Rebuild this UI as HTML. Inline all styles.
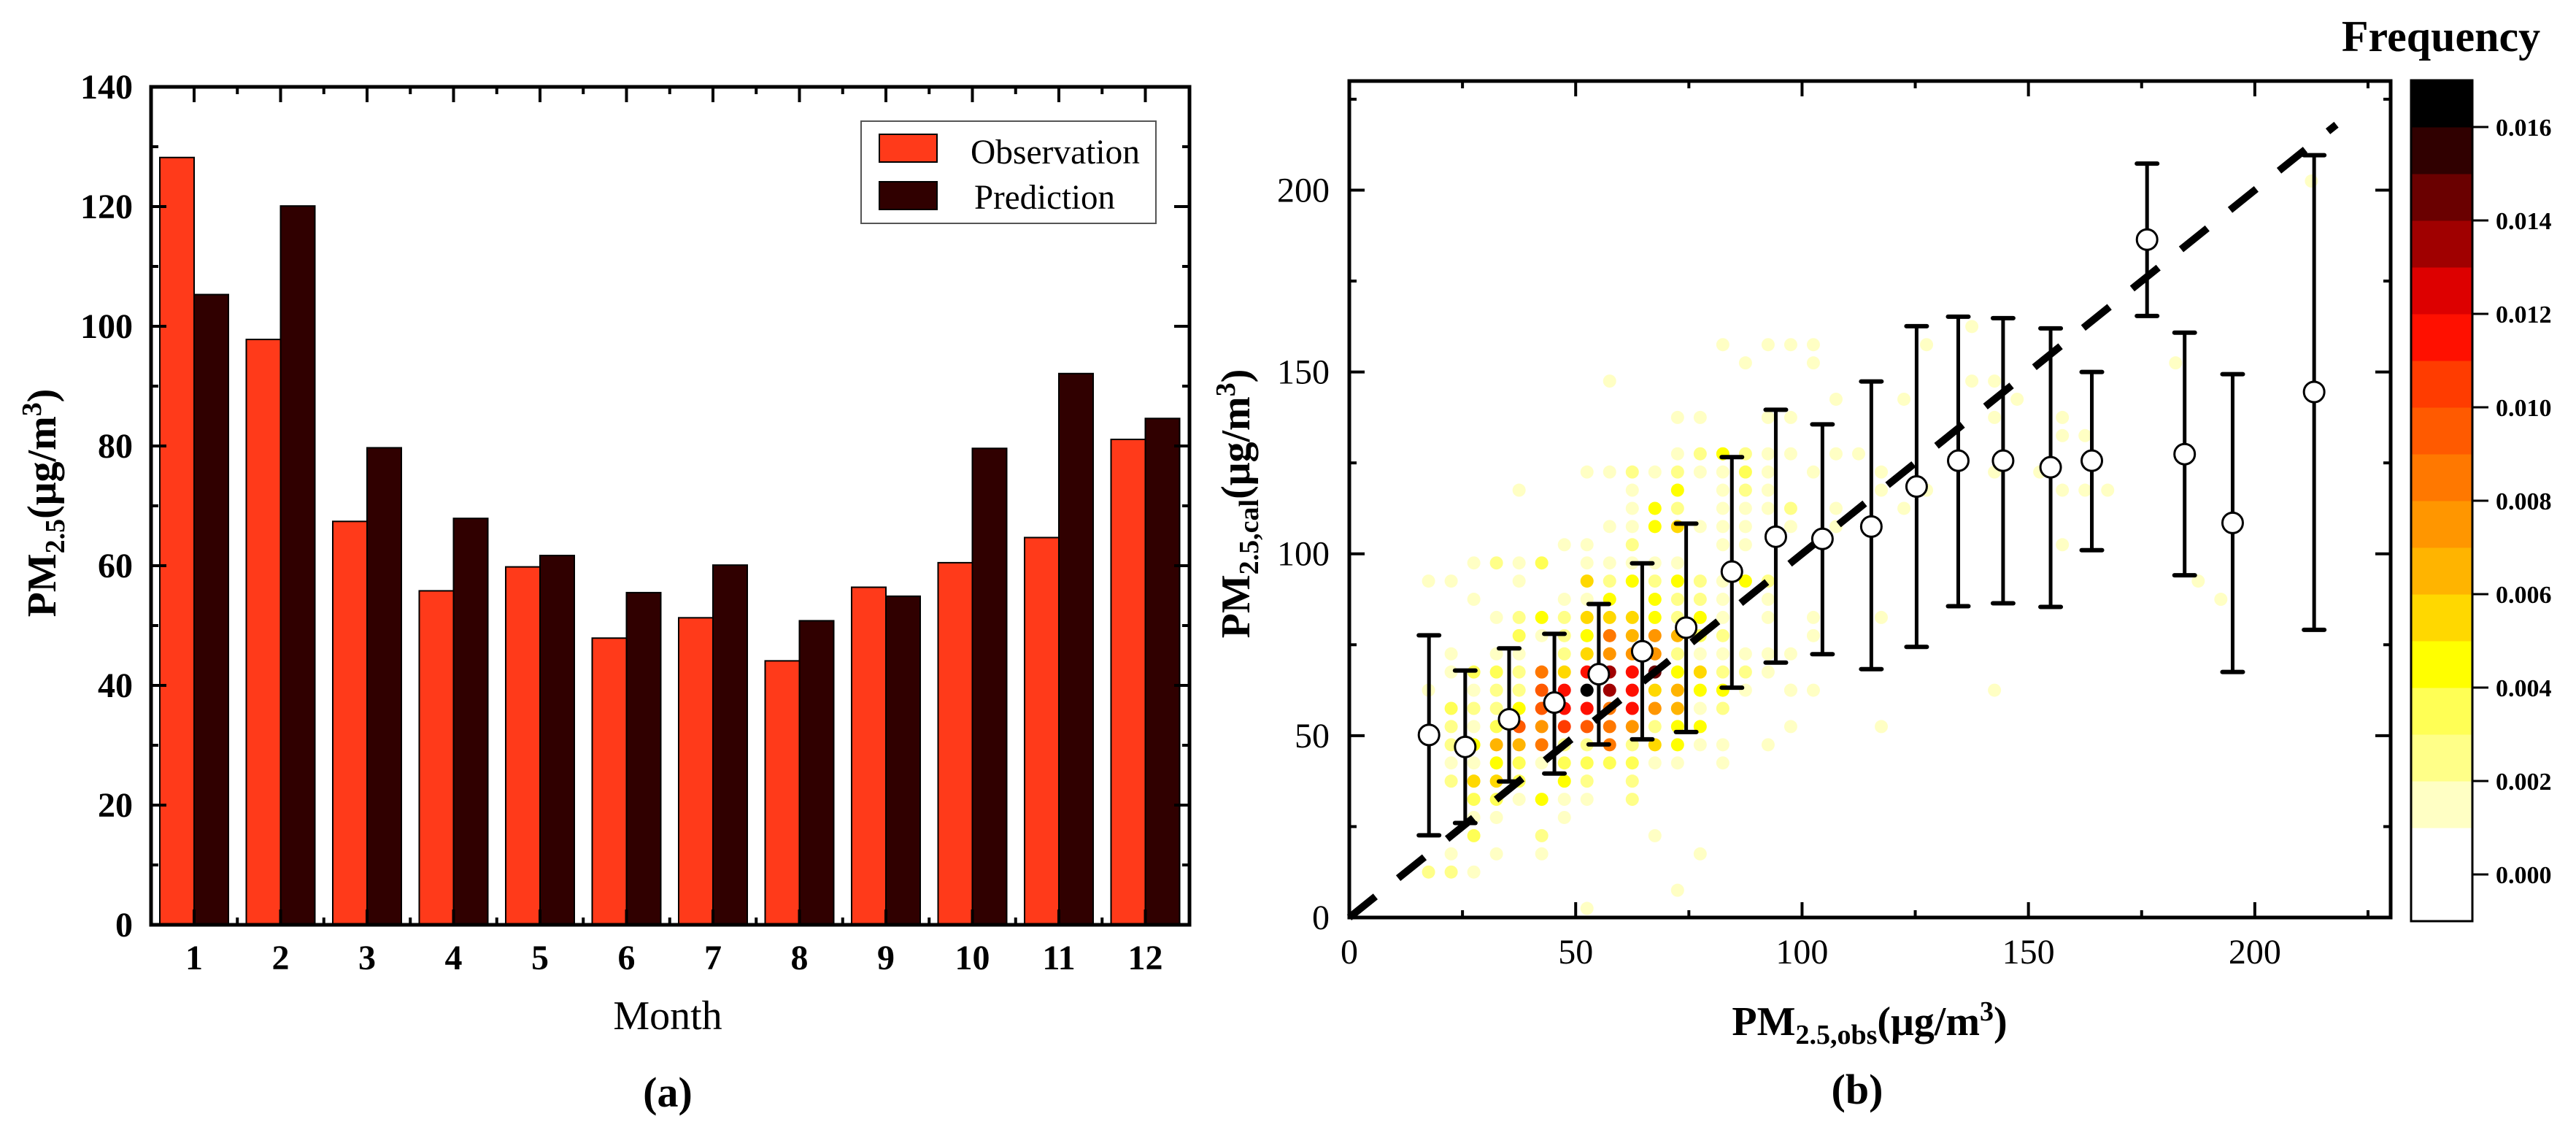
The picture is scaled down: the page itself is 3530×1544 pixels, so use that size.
<!DOCTYPE html>
<html><head><meta charset="utf-8"><style>
html,body{margin:0;padding:0;background:#fff;}
svg{display:block;font-family:"Liberation Serif",serif;}
</style></head><body>
<svg id="fig" width="3530" height="1544" viewBox="0 0 3530 1544" xmlns="http://www.w3.org/2000/svg">
<rect width="3530" height="1544" fill="#fff"/>
<g id="left"></g>
<g id="right"></g>
<text transform="translate(76,689) rotate(-90)" text-anchor="middle" font-weight="bold" font-size="56">PM<tspan font-size="38" dy="12">2.5</tspan><tspan dy="-12">(μg/m</tspan><tspan font-size="38" dy="-20">3</tspan><tspan dy="20">)</tspan></text>
<text x="915" y="1410" text-anchor="middle" font-size="56">Month</text>
<text x="915" y="1516" text-anchor="middle" font-weight="bold" font-size="58">(a)</text>
<text transform="translate(1712,690) rotate(-90)" text-anchor="middle" font-weight="bold" font-size="56">PM<tspan font-size="38" dy="12">2.5,cal</tspan><tspan dy="-12">(μg/m</tspan><tspan font-size="38" dy="-20">3</tspan><tspan dy="20">)</tspan></text>
<text x="2562" y="1418" text-anchor="middle" font-weight="bold" font-size="56">PM<tspan font-size="38" dy="12">2.5,obs</tspan><tspan dy="-12">(μg/m</tspan><tspan font-size="38" dy="-20">3</tspan><tspan dy="20">)</tspan></text>
<text x="2545" y="1512" text-anchor="middle" font-weight="bold" font-size="58">(b)</text>
<text x="3345" y="70" text-anchor="middle" font-weight="bold" font-size="60">Frequency</text>
<g>
<rect x="1180" y="166" width="404" height="140" fill="#fff" stroke="#555" stroke-width="2"/>
<rect x="1205" y="184" width="79" height="38" fill="#ff3a1a" stroke="#000" stroke-width="2"/>
<text x="1330" y="224" font-size="48" textLength="232" lengthAdjust="spacingAndGlyphs">Observation</text>
<rect x="1205" y="249" width="79" height="38" fill="#300000" stroke="#000" stroke-width="2"/>
<text x="1335" y="286" font-size="48" textLength="193" lengthAdjust="spacingAndGlyphs">Prediction</text>
</g>
</svg>
<script>
const months = [1,2,3,4,5,6,7,8,9,10,11,12];
const observation = [128.2,97.8,67.4,55.8,59.8,47.9,51.3,44.1,56.4,60.5,64.7,81.1];
const prediction = [105.3,120.1,79.7,67.9,61.7,55.5,60.1,50.8,54.9,79.6,92.1,84.6];
const leftYTicks = [0,20,40,60,80,100,120,140];

const binX = [17.6,25.6,35.3,45.3,55.1,64.7,74.4,84.5,94.2,104.5,115.3,125.3,134.5,144.4,154.9,164.0,176.2,184.5,195.1,213.1];
const binMean = [50.2,46.9,54.5,59.1,66.9,73.2,79.7,95.1,104.7,104.1,107.5,118.5,125.6,125.6,123.8,125.6,186.4,127.4,108.5,144.5];
const binHigh = [77.6,67.9,74.0,78.0,86.2,97.4,108.3,126.6,139.6,135.6,147.4,162.6,165.2,164.8,162.0,150.0,207.3,160.8,149.4,209.6];
const binLow = [22.6,26.0,37.4,39.6,47.6,49.0,51.0,63.2,70.1,72.4,68.3,74.4,85.6,86.4,85.4,101.0,165.4,94.1,67.5,79.1];
const rightTicks = [0,50,100,150,200];
const cbTicks = [0.000,0.002,0.004,0.006,0.008,0.010,0.012,0.014,0.016];
const cbColors = ["#ffffff","#ffffc4","#ffff88","#ffff55","#ffff00","#ffd800","#ffb400","#ff9600","#ff7800","#ff5a00","#ff3c00","#ff1000","#dd0000","#a00000","#6a0000","#300000","#000000"];
const heatCells = [
[17.5,92.5,1],[22.5,92.5,1],[37.5,92.5,1],[52.5,92.5,5],[57.5,92.5,2],[62.5,92.5,4],[67.5,92.5,2],[72.5,92.5,4],[77.5,92.5,2],[82.5,92.5,1],[87.5,92.5,4],[92.5,92.5,2],
[27.5,87.5,1],[47.5,87.5,1],[52.5,87.5,1],[57.5,87.5,4],[67.5,87.5,4],[72.5,87.5,2],[77.5,87.5,2],[82.5,87.5,1],[92.5,87.5,1],
[32.5,82.5,1],[37.5,82.5,2],[42.5,82.5,4],[47.5,82.5,2],[52.5,82.5,5],[57.5,82.5,5],[62.5,82.5,5],[67.5,82.5,4],[72.5,82.5,2],[77.5,82.5,4],[82.5,82.5,1],[92.5,82.5,1],
[37.5,77.5,3],[42.5,77.5,1],[47.5,77.5,2],[52.5,77.5,4],[57.5,77.5,8],[62.5,77.5,6],[67.5,77.5,7],[72.5,77.5,6],[77.5,77.5,3],[82.5,77.5,2],
[22.5,72.5,1],[32.5,72.5,1],[37.5,72.5,1],[47.5,72.5,2],[52.5,72.5,5],[57.5,72.5,7],[62.5,72.5,7],[67.5,72.5,7],[72.5,72.5,2],[77.5,72.5,1],[82.5,72.5,1],[87.5,72.5,1],[92.5,72.5,1],[97.5,72.5,1],
[22.5,67.5,1],[27.5,67.5,3],[32.5,67.5,3],[37.5,67.5,2],[42.5,67.5,8],[47.5,67.5,5],[52.5,67.5,11],[57.5,67.5,13],[62.5,67.5,11],[67.5,67.5,14],[72.5,67.5,4],[77.5,67.5,5],[82.5,67.5,2],[87.5,67.5,2],[92.5,67.5,1],
[17.5,62.5,1],[27.5,62.5,1],[32.5,62.5,2],[37.5,62.5,2],[42.5,62.5,9],[47.5,62.5,11],[52.5,62.5,16],[57.5,62.5,13],[62.5,62.5,11],[67.5,62.5,5],[72.5,62.5,6],[77.5,62.5,4],[82.5,62.5,4],[87.5,62.5,1],[97.5,62.5,1],
[22.5,57.5,3],[27.5,57.5,2],[32.5,57.5,2],[37.5,57.5,4],[42.5,57.5,9],[47.5,57.5,11],[52.5,57.5,11],[57.5,57.5,8],[62.5,57.5,11],[67.5,57.5,7],[72.5,57.5,6],[77.5,57.5,1],[82.5,57.5,2],
[22.5,52.5,2],[27.5,52.5,1],[32.5,52.5,3],[37.5,52.5,9],[42.5,52.5,7],[47.5,52.5,10],[52.5,52.5,9],[57.5,52.5,8],[62.5,52.5,7],[67.5,52.5,2],[72.5,52.5,4],[77.5,52.5,4],[97.5,52.5,1],
[22.5,47.5,2],[27.5,47.5,4],[32.5,47.5,6],[37.5,47.5,6],[42.5,47.5,8],[47.5,47.5,2],[52.5,47.5,2],[57.5,47.5,8],[62.5,47.5,2],[67.5,47.5,5],[72.5,47.5,4],[77.5,47.5,1],[82.5,47.5,1],[92.5,47.5,1],
[22.5,42.5,1],[27.5,42.5,1],[32.5,42.5,4],[37.5,42.5,3],[42.5,42.5,1],[47.5,42.5,3],[52.5,42.5,3],[57.5,42.5,3],[62.5,42.5,3],[67.5,42.5,1],[72.5,42.5,1],[82.5,42.5,1],
[22.5,37.5,2],[27.5,37.5,5],[32.5,37.5,5],[37.5,37.5,3],[47.5,37.5,4],[52.5,37.5,2],[62.5,37.5,2],
[27.5,32.5,3],[32.5,32.5,3],[37.5,32.5,1],[42.5,32.5,4],[47.5,32.5,1],[52.5,32.5,1],[62.5,32.5,2],
[27.5,27.5,1],[32.5,27.5,1],[47.5,27.5,1],
[27.5,22.5,3],[42.5,22.5,2],[67.5,22.5,1],
[22.5,17.5,1],[32.5,17.5,1],[42.5,17.5,1],[77.5,17.5,1],
[17.5,12.5,2],[22.5,12.5,2],[27.5,12.5,1],[72.5,7.5,1],[52.5,2.5,1],
[27.5,97.5,1],[32.5,97.5,2],[37.5,97.5,1],[42.5,97.5,3],[52.5,97.5,1],[57.5,97.5,1],[62.5,97.5,1],[67.5,97.5,1],[72.5,97.5,1],
[47.5,102.5,1],[52.5,102.5,1],[62.5,102.5,2],[82.5,102.5,1],[87.5,102.5,1],[157.5,102.5,1],
[57.5,107.5,1],[62.5,107.5,1],[67.5,107.5,4],[72.5,107.5,5],[77.5,107.5,1],[82.5,107.5,1],[87.5,107.5,1],[97.5,107.5,1],[107.5,107.5,1],
[62.5,112.5,1],[67.5,112.5,4],[72.5,112.5,2],[82.5,112.5,1],[87.5,112.5,1],[92.5,112.5,1],[97.5,112.5,2],[107.5,112.5,1],[122.5,112.5,1],
[37.5,117.5,1],[62.5,117.5,1],[72.5,117.5,4],[82.5,117.5,1],[87.5,117.5,2],[92.5,117.5,1],[117.5,117.5,1],[127.5,117.5,1],[157.5,117.5,1],[162.5,117.5,1],[167.5,117.5,1],
[52.5,122.5,1],[57.5,122.5,1],[62.5,122.5,2],[67.5,122.5,1],[72.5,122.5,2],[77.5,122.5,1],[82.5,122.5,1],[87.5,122.5,3],[92.5,122.5,1],[102.5,122.5,1],[117.5,122.5,1],[142.5,122.5,1],[152.5,122.5,1],
[72.5,127.5,1],[77.5,127.5,2],[82.5,127.5,4],[87.5,127.5,2],[92.5,127.5,1],[97.5,127.5,1],[107.5,127.5,1],[112.5,127.5,1],
[162.5,132.5,1],[157.5,132.5,1],
[72.5,137.5,1],[77.5,137.5,1],[92.5,137.5,1],[97.5,137.5,1],[142.5,137.5,1],[157.5,137.5,1],
[107.5,142.5,1],[122.5,142.5,1],[147.5,142.5,1],
[57.5,147.5,1],[137.5,147.5,1],[142.5,147.5,1],
[87.5,152.5,1],[102.5,152.5,1],[182.5,152.5,1],
[82.5,157.5,1],[92.5,157.5,1],[97.5,157.5,1],[102.5,157.5,1],[127.5,157.5,1],
[137.5,162.5,1],[192.5,87.5,1],[187.5,92.5,1],[142.5,62.5,1],[117.5,52.5,1],[117.5,82.5,1],
[102.5,82.5,1],[102.5,77.5,1],[102.5,62.5,1],[97.5,62.5,1],[212.5,202.5,1]
];

const NS = "http://www.w3.org/2000/svg";
function mk(parent, tag, attrs, text){
  const e = document.createElementNS(NS, tag);
  for (const k in attrs) e.setAttribute(k, attrs[k]);
  if (text !== undefined) e.textContent = text;
  parent.appendChild(e);
  return e;
}

(function(){
  const g = document.getElementById('left');
  const L=207, R=1630, T=119, B=1267;
  const yS = v => B - (v/140)*(B-T);
  const cx = m => 266 + (m-1)*118.5;
  const bw = 47;
  months.forEach((m,i)=>{
    const o = mk(g,'rect',{x:cx(m)-bw, y:yS(observation[i]), width:bw, height:B-yS(observation[i]), fill:'#ff3a1a', stroke:'#000','stroke-width':2});
    
    
    const p = mk(g,'rect',{x:cx(m), y:yS(prediction[i]), width:bw, height:B-yS(prediction[i]), fill:'#300000', stroke:'#000','stroke-width':2});
    
    
    const t = mk(g,'text',{x:cx(m), y:1328,'text-anchor':'middle','font-size':48,'font-weight':'bold'}, String(m));
    
    
    mk(g,'line',{x1:cx(m),x2:cx(m),y1:T,y2:T+21,stroke:'#000','stroke-width':4});
    mk(g,'line',{x1:cx(m),x2:cx(m),y1:B,y2:B-21,stroke:'#000','stroke-width':4});
    const mx = cx(m)+59.25;
    if (m<12){
      mk(g,'line',{x1:mx,x2:mx,y1:T,y2:T+10,stroke:'#000','stroke-width':4});
      mk(g,'line',{x1:mx,x2:mx,y1:B,y2:B-10,stroke:'#000','stroke-width':4});
    }
  });
  const mx0 = cx(1)-59.25;
  mk(g,'line',{x1:mx0,x2:mx0,y1:T,y2:T+10,stroke:'#000','stroke-width':4});
  leftYTicks.forEach(v=>{
    const y=yS(v);
    mk(g,'line',{x1:L,x2:L+21,y1:y,y2:y,stroke:'#000','stroke-width':4});
    mk(g,'line',{x1:R,x2:R-21,y1:y,y2:y,stroke:'#000','stroke-width':4});
    if (v<140){
      const ym=yS(v+10);
      mk(g,'line',{x1:L,x2:L+10,y1:ym,y2:ym,stroke:'#000','stroke-width':4});
      mk(g,'line',{x1:R,x2:R-10,y1:ym,y2:ym,stroke:'#000','stroke-width':4});
    }
    const t = mk(g,'text',{x:182,y:y+16,'text-anchor':'end','font-size':48,'font-weight':'bold'}, String(v));
    
    
  });
  const f = mk(g,'rect',{x:L,y:T,width:R-L,height:B-T,fill:'none',stroke:'#000','stroke-width':5});
  
  
})();

(function(){
  const g = document.getElementById('right');
  const L=1849, R=3276, T=111, B=1257;
  const xS = v => L + v*(R-L)/230;
  const yS = v => B - v*(B-T)/230;
  const gh = mk(g,'g',{});
  
  
  heatCells.forEach(c=>{
    const d = mk(gh,'circle',{cx:xS(c[0]),cy:yS(c[1]),r:9,fill:cbColors[c[2]]});
    
    
  });
  const dl = mk(g,'line',{x1:xS(0),y1:yS(0),x2:xS(218),y2:yS(218),stroke:'#000','stroke-width':10,'stroke-dasharray':'46 40'});
  
  
  binX.forEach((x,i)=>{
    const eg = mk(g,'g',{});
    
    
    const X=xS(x);
    mk(eg,'line',{x1:X,x2:X,y1:yS(binHigh[i]),y2:yS(binLow[i]),stroke:'#000','stroke-width':5});
    mk(eg,'line',{x1:X-14,x2:X+14,y1:yS(binHigh[i]),y2:yS(binHigh[i]),stroke:'#000','stroke-width':6,'stroke-linecap':'round'});
    mk(eg,'line',{x1:X-14,x2:X+14,y1:yS(binLow[i]),y2:yS(binLow[i]),stroke:'#000','stroke-width':6,'stroke-linecap':'round'});
    const c = mk(g,'circle',{cx:X,cy:yS(binMean[i]),r:14,fill:'#fff',stroke:'#000','stroke-width':3});
    
    
  });
  rightTicks.forEach(v=>{
    mk(g,'line',{x1:xS(v),x2:xS(v),y1:B,y2:B-21,stroke:'#000','stroke-width':4});
    mk(g,'line',{x1:xS(v),x2:xS(v),y1:T,y2:T+21,stroke:'#000','stroke-width':4});
    mk(g,'line',{x1:L,x2:L+21,y1:yS(v),y2:yS(v),stroke:'#000','stroke-width':4});
    mk(g,'line',{x1:R,x2:R-21,y1:yS(v),y2:yS(v),stroke:'#000','stroke-width':4});
    const vm=v+25;
    mk(g,'line',{x1:xS(vm),x2:xS(vm),y1:B,y2:B-10,stroke:'#000','stroke-width':4});
    mk(g,'line',{x1:xS(vm),x2:xS(vm),y1:T,y2:T+10,stroke:'#000','stroke-width':4});
    mk(g,'line',{x1:L,x2:L+10,y1:yS(vm),y2:yS(vm),stroke:'#000','stroke-width':4});
    mk(g,'line',{x1:R,x2:R-10,y1:yS(vm),y2:yS(vm),stroke:'#000','stroke-width':4});
    const tx = mk(g,'text',{x:xS(v),y:1320,'text-anchor':'middle','font-size':48}, String(v));
    
    
    const ty = mk(g,'text',{x:1822,y:yS(v)+16,'text-anchor':'end','font-size':48}, String(v));
    
    
  });
  const f = mk(g,'rect',{x:L,y:T,width:R-L,height:B-T,fill:'none',stroke:'#000','stroke-width':5});
  
  

  const cb = mk(g,'g',{});
  
  
  const CL=3304, CR=3388;
  const cY = f0 => 1198 - f0/0.002*128;
  cbColors.forEach((col,k)=>{
    const lo = (k===0) ? -0.001 : k*0.001;
    const hi = (k===0) ? 0.001 : (k+1)*0.001;
    if (k===0){ mk(cb,'rect',{x:CL,y:cY(hi),width:CR-CL,height:cY(lo)-cY(hi),fill:col}); return; }
    const r = mk(cb,'rect',{x:CL,y:cY(hi),width:CR-CL,height:cY(lo)-cY(hi)+0.5,fill:col});
    
    
  });
  mk(cb,'rect',{x:CL,y:cY(0.017),width:CR-CL,height:cY(-0.001)-cY(0.017),fill:'none',stroke:'#000','stroke-width':3});
  cbTicks.forEach(v=>{
    mk(cb,'line',{x1:CR,x2:CR+22,y1:cY(v),y2:cY(v),stroke:'#000','stroke-width':3});
    const t = mk(cb,'text',{x:3420,y:cY(v)+12,'font-size':34,'font-weight':'bold'}, v.toFixed(3));
    
    
  });
})();
</script>
</body></html>
